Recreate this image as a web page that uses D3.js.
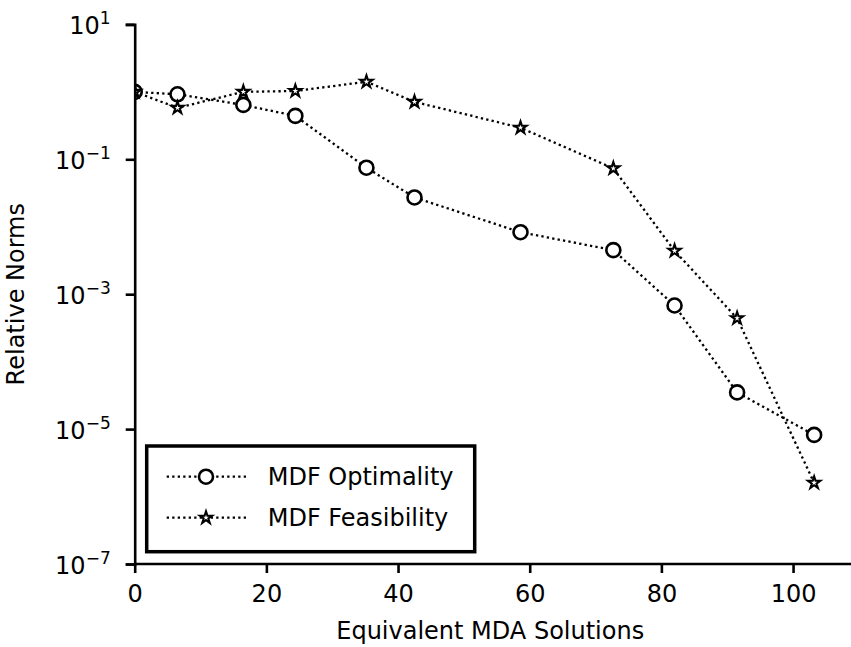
<!DOCTYPE html>
<html>
<head>
<meta charset="utf-8">
<script src="https://d3js.org/d3.v7.min.js"></script>
<style>
  body { margin: 0; background: #fff; }
  text { font-family: "DejaVu Sans", sans-serif; fill: #000; }
</style>
</head>
<body>
<div id="my_dataviz"></div>
<script>
// data
var mdaSolutions = [0, 6.5, 16.5, 24.4, 35.2, 42.5, 58.6, 72.7, 82.0, 91.5, 103.2];
var optimality = [1.0, 0.92, 0.64, 0.44, 0.075, 0.0272, 0.0083, 0.0045, 6.8e-4, 3.5e-5, 8.2e-6];
var feasibility = [1.0, 0.58, 1.0, 1.03, 1.41, 0.71, 0.294, 0.0734, 0.0044, 4.4e-4, 1.6e-6];
var seriesNames = ["MDF Optimality", "MDF Feasibility"];
var xTicks = [0, 20, 40, 60, 80, 100];
var yTickExps = [1, -1, -3, -5, -7];

var margin = {top: 24.4, right: 0, bottom: 83, left: 134.7},
    width = 851 - margin.left - margin.right,
    height = 647 - margin.top - margin.bottom;

var x = d3.scaleLinear().domain([0, 108.8]).range([0, width]);
var y = d3.scaleLog().domain([1e-7, 1e1]).range([height, 0]);

var svg = d3.select("#my_dataviz")
    .append("svg")
        .attr("width", 851)
        .attr("height", 647)
    .append("g")
        .attr("transform", "translate(" + margin.left + "," + margin.top + ")");

svg.append("clipPath")
    .attr("id", "plotclip")
  .append("rect")
    .attr("x", 0).attr("y", 0)
    .attr("width", width).attr("height", height);

var series = [
    {name: seriesNames[0], values: optimality, marker: "circle"},
    {name: seriesNames[1], values: feasibility, marker: "star"}
];

var line = d3.line()
    .x(function(d) { return x(d[0]); })
    .y(function(d) { return y(d[1]); });

var star = d3.symbol().type(d3.symbolStar).size(46);

function drawMarker(sel, kind) {
    if (kind == "circle") {
        sel.append("circle")
            .attr("r", 7)
            .attr("fill", "#fff")
            .attr("stroke", "#000")
            .attr("stroke-width", 2.6);
    } else {
        sel.append("path")
            .attr("d", star)
            .attr("fill", "#fff")
            .attr("stroke", "#000")
            .attr("stroke-width", 2.1)
            .attr("stroke-linejoin", "miter");
    }
}

var plot = svg.append("g").attr("clip-path", "url(#plotclip)");

series.forEach(function(s) {
    var pts = mdaSolutions.map(function(v, i) { return [v, s.values[i]]; });
    plot.append("path")
        .attr("d", line(pts))
        .attr("fill", "none")
        .attr("stroke", "#000")
        .attr("stroke-width", 2.3)
        .attr("stroke-dasharray", "2.3,3.2");
    plot.selectAll(null)
        .data(pts)
        .join("g")
            .attr("transform", function(d) { return "translate(" + x(d[0]) + "," + y(d[1]) + ")"; })
            .each(function() { drawMarker(d3.select(this), s.marker); });
});

// Axes
var xAxis = svg.append("g")
    .attr("transform", "translate(0," + height + ")")
    .call(d3.axisBottom(x).tickValues(xTicks).tickSize(9).tickPadding(8).tickFormat(d3.format("d")));
xAxis.select(".domain").attr("d", "M0,0H" + (width + 2));

var yAxis = svg.append("g")
    .call(d3.axisLeft(y).tickValues(yTickExps.map(function(e) { return Math.pow(10, e); })).tickSize(9).tickFormat(""));

svg.selectAll(".domain").attr("stroke-width", 2.6);
svg.selectAll(".tick line").attr("stroke-width", 2.6);
xAxis.selectAll(".tick text")
    .attr("font-family", null)
    .style("font-size", "24px")
    .attr("y", 21)
    .attr("dy", "0.72em");

// y tick labels 10^e
yTickExps.forEach(function(e) {
    var t = svg.append("text")
        .attr("x", -24)
        .attr("y", y(Math.pow(10, e)))
        .attr("dy", "0.42em")
        .attr("text-anchor", "end")
        .style("font-size", "24px");
    t.append("tspan").text("10");
    t.append("tspan")
        .attr("dy", "-0.6em")
        .style("font-size", "17px")
        .text(e < 0 ? "\u2212" + (-e) : String(e));
});

// Axis labels
svg.append("text")
    .attr("text-anchor", "middle")
    .style("font-size", "24px")
    .attr("x", x(54))
    .attr("y", height + 75)
    .text("Equivalent MDA Solutions");

svg.append("text")
    .attr("text-anchor", "middle")
    .style("font-size", "24px")
    .attr("transform", "rotate(-90)")
    .attr("x", -height / 2)
    .attr("y", -111)
    .text("Relative Norms");

// Legend
var legend = svg.append("g")
    .attr("transform", "translate(" + (146.7 - margin.left) + "," + (446 - margin.top) + ")");

legend.append("rect")
    .attr("width", 328)
    .attr("height", 105.7)
    .attr("fill", "#fff")
    .attr("stroke", "#000")
    .attr("stroke-width", 3.5);

series.forEach(function(s, i) {
    var ly = 30.7 + i * 41;
    legend.append("line")
        .attr("x1", 20).attr("x2", 99.3)
        .attr("y1", ly).attr("y2", ly)
        .attr("stroke", "#000")
        .attr("stroke-width", 2.3)
        .attr("stroke-dasharray", "2.3,3.2");
    var m = legend.append("g").attr("transform", "translate(59.3," + ly + ")");
    drawMarker(m, s.marker);
    legend.append("text")
        .attr("x", 121)
        .attr("y", ly)
        .attr("dy", "0.36em")
        .style("font-size", "24px")
        .text(s.name);
});
</script>
</body>
</html>
